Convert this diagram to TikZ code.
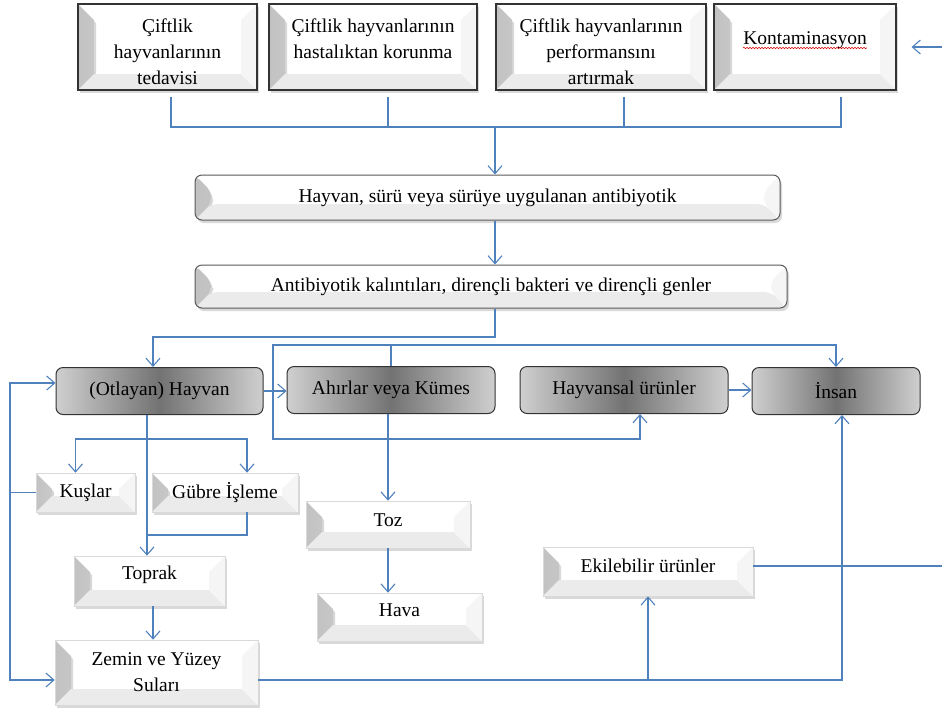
\documentclass[tikz,border=0pt]{standalone}
\usepackage{fontspec}
\setmainfont{Liberation Serif}
\usetikzlibrary{arrows.meta, shadows, decorations.pathmorphing}
\definecolor{flow}{RGB}{79,129,189}
\pgfdeclarehorizontalshading{glow}{100bp}{color(0bp)=(white); color(12bp)=(white); color(50bp)=(black!55); color(88bp)=(white); color(100bp)=(white)}

\begin{document}
\begin{tikzpicture}[x=1pt, y=1pt,
    font=\fontsize{19.5}{26}\selectfont,
    bevel/.style={path picture={
        \shade[left color=black!24, right color=black!3]
          (path picture bounding box.north west) -- (path picture bounding box.south west)
          -- ++(16pt,16pt) -- ([shift={(16pt,-16pt)}]path picture bounding box.north west) -- cycle;
        \fill[black!8]
          (path picture bounding box.south west) -- (path picture bounding box.south east)
          -- ++(-16pt,16pt) -- ([shift={(16pt,16pt)}]path picture bounding box.south west) -- cycle;
        \fill[black!4]
          (path picture bounding box.south east) -- (path picture bounding box.north east)
          -- ++(-16pt,-16pt) -- ([shift={(-16pt,16pt)}]path picture bounding box.south east) -- cycle;
    }},
    shade/.style={drop shadow={shadow xshift=2pt, shadow yshift=-3pt, opacity=0.3}},
    topbox/.style={bevel, shade, fill=white, draw=black!80, line width=1.2pt, align=center,
                   inner sep=2pt, minimum height=86pt, outer ysep=7pt},
    bandbox/.style={bevel, shade, fill=white, draw=black!65, line width=1pt, rounded corners=7pt,
                    inner sep=2pt},
    glowbox/.style={shading=glow, draw=black!80, line width=1pt, rounded corners=7pt,
                    inner sep=2pt, minimum height=47pt},
    plainbox/.style={bevel, shade, fill=white, draw=black!15, line width=0.6pt, align=center, inner sep=2pt},
    line/.style={draw=flow, line width=1.1pt},
    arr/.style={line, -{Straight Barb[length=8pt, width=14pt]}},
]
\useasboundingbox (0,0) rectangle (942,-713);

\node[topbox, minimum width=179pt] (t1) at (167.5,-47) {\rule{0pt}{23pt}Çiftlik\\hayvanlarının\\tedavisi};
\node[topbox, minimum width=208pt] (t2) at (373,-47) {\rule{0pt}{23pt}Çiftlik hayvanlarının\\hastalıktan korunma\\\mbox{}};
\node[topbox, minimum width=210pt] (t3) at (601,-47) {\rule{0pt}{23pt}Çiftlik hayvanlarının\\performansını\\artırmak};
\node[topbox, minimum width=182pt] (t4) at (805,-47) {\rule{0pt}{21pt}Kontaminasyon\\\mbox{}};
\draw[red!85!black, line width=0.6pt, decorate, decoration={snake, amplitude=0.7pt, segment length=3pt}]
  ([xshift=-62pt,yshift=-1pt]t4.center) -- ([xshift=62pt,yshift=-1pt]t4.center);

\node[bandbox, minimum width=585pt, minimum height=45pt] (anti) at (487.5,-197.5) {Hayvan, sürü veya sürüye uygulanan antibiyotik};
\node[bandbox, minimum width=592pt, minimum height=43pt] (kal) at (491,-286.5) {Antibiyotik kalıntıları, dirençli bakteri ve dirençli genler};

\node[glowbox, minimum width=207pt] (ot) at (159.5,-391) {(Otlayan) Hayvan};
\node[glowbox, minimum width=208pt] (ahir) at (391,-390) {Ahırlar veya Kümes};
\node[glowbox, minimum width=208pt] (urun) at (624,-390) {Hayvansal ürünler};
\node[glowbox, minimum width=168pt] (insan) at (836,-391) {İnsan};

\node[plainbox, minimum width=99pt, minimum height=39pt] (kus) at (85.5,-492.5) {Kuşlar};
\node[plainbox, minimum width=146pt, minimum height=39pt] (gubre) at (225,-492.5) {Gübre İşleme};
\node[plainbox, minimum width=164pt, minimum height=47pt, text depth=8pt] (toz) at (388,-524.5) {Toz};
\node[plainbox, minimum width=165pt, minimum height=48pt, text depth=14pt] (hava) at (399.5,-617) {Hava};
\node[plainbox, minimum width=151pt, minimum height=50pt, text depth=17pt] (toprak) at (149.5,-581) {Toprak};
\node[plainbox, minimum width=203pt, minimum height=65pt] (zemin) at (156.5,-672.5) {Zemin ve Yüzey\\Suları};
\node[plainbox, minimum width=210pt, minimum height=49pt, text depth=11pt] (ekim) at (648,-571.5) {Ekilebilir ürünler};

\coordinate (hub) at (495,-127);
\coordinate (j1) at (153,-337);
\coordinate (j2) at (273,-345);
\coordinate (j3) at (273,-439);
\coordinate (j4) at (147,-439);
\coordinate (j5) at (147,-535);
\coordinate (j6) at (10,-492.5);
\coordinate (j7) at (842,-680);
\coordinate (e1) at (942,-566);
\coordinate (e2) at (942,-47);

\draw[line] ([xshift=3.5pt]t1.south) |- (hub);
\draw[line] ([xshift=15pt]t2.south) |- (hub);
\draw[line] ([xshift=23pt]t3.south) |- (hub);
\draw[line] ([xshift=36pt]t4.south) |- (hub);
\draw[arr] (hub) -- (hub |- anti.north);
\draw[arr] (anti.south -| hub) -- (kal.north -| hub);
\draw[arr] (kal.south -| hub) |- (j1) -- (j1 |- ot.north);

\draw[arr] (ot.east) -- (ot.east -| ahir.west);
\draw[arr] (urun.east) -- (urun.east -| insan.west);
\draw[arr] (ahir.north) |- (insan.north |- j2) -- (insan.north);
\draw[arr] (ahir.north |- j2) -| (j3) -| ([xshift=16pt]urun.south);

\draw[arr] (ot.south -| j4) -- (j4 |- toprak.north);
\draw[arr] (j4) -| ([xshift=-10pt]kus.north);
\draw[arr] (j4) -| ([xshift=22pt]gubre.north);
\draw[line] ([xshift=22pt]gubre.south) |- (j5);
\draw[arr] ([xshift=3.5pt]toprak.south) -- ([xshift=3.5pt]toprak.south |- zemin.north);

\draw[arr] (kus.west) -| (j6) |- ([yshift=8pt]ot.west);
\draw[arr] (j6) |- ([yshift=-7.5pt]zemin.west);

\draw[arr] (toz.north |- ahir.south) -- (toz.north);
\draw[arr] (toz.south) -- (toz.south |- hava.north);

\draw[arr] ([yshift=-7.5pt]zemin.east) -| ([xshift=6pt]insan.south);
\draw[arr] (ekim.south |- j7) -- (ekim.south);
\draw[line] ([yshift=5.5pt]ekim.east) -- (e1);
\draw[arr] (e2) -- ([xshift=15pt]t4.east);
\end{tikzpicture}
\end{document}
